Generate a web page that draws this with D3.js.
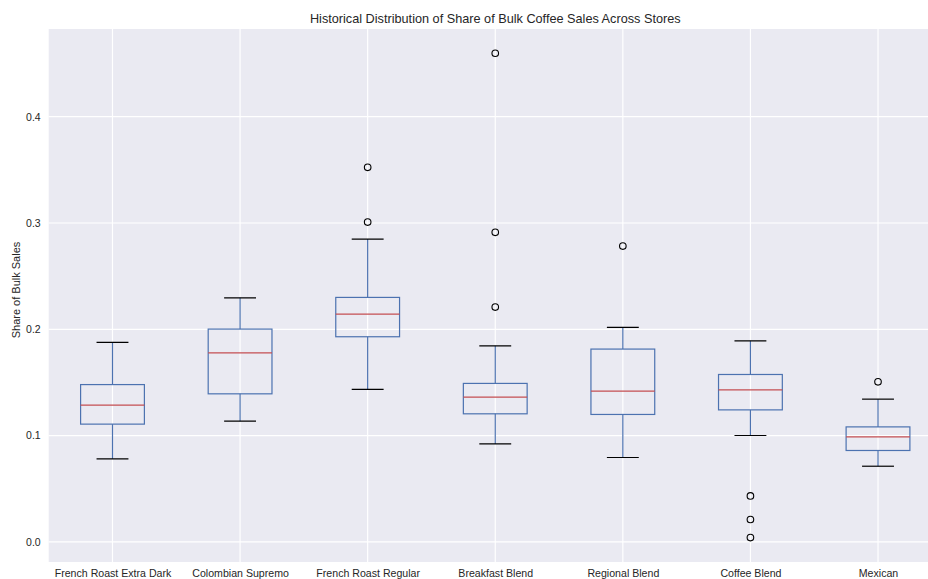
<!DOCTYPE html>
<html><head><meta charset="utf-8">
<script src="https://cdn.jsdelivr.net/npm/d3@7"></script>
<style>body{margin:0;background:#fff}svg{display:block}text{font-family:"Liberation Sans",Arial,sans-serif}</style>
</head><body><svg id="c" width="928" height="579"></svg>
<script>
const categories = ["French Roast Extra Dark","Colombian Supremo","French Roast Regular","Breakfast Blend","Regional Blend","Coffee Blend","Mexican"];
const whiskerLow  = [0.0781,0.1136,0.1434,0.0922,0.0794,0.1001,0.0712];
const q1          = [0.1108,0.1393,0.1930,0.1205,0.1199,0.1242,0.0860];
const median      = [0.1287,0.1779,0.2143,0.1362,0.1418,0.1431,0.0988];
const q3          = [0.1480,0.2002,0.2300,0.1491,0.1814,0.1575,0.1082];
const whiskerHigh = [0.1877,0.2296,0.2849,0.1845,0.2018,0.1892,0.1343];
const outliers    = [[],[],[0.3009,0.3524],[0.2209,0.2912,0.4597],[0.2783],[0.0433,0.0211,0.0041],[0.1506]];
const yTicks = [0.0,0.1,0.2,0.3,0.4];

const svg = d3.select("#c");
const L=48.7, R=941.8, T=29, B=562;
const x = d3.scaleLinear().domain([0.5,7.5]).range([L,R]);
const y = d3.scaleLinear().domain([-0.0189,0.4825]).range([B,T]);
const step = x(2)-x(1);

svg.append("rect").attr("x",L).attr("y",T).attr("width",R-L).attr("height",B-T).attr("fill","#EAEAF2");
// grid
svg.append("g").selectAll("line").data(yTicks).join("line")
  .attr("x1",L).attr("x2",R).attr("y1",d=>y(d)).attr("y2",d=>y(d)).attr("stroke","#fff").attr("stroke-width",1.2);
svg.append("g").selectAll("line").data(categories).join("line")
  .attr("x1",(d,i)=>x(i+1)).attr("x2",(d,i)=>x(i+1)).attr("y1",T).attr("y2",B).attr("stroke","#fff").attr("stroke-width",1.2);

// axes
const ya = d3.axisLeft(y).tickValues(yTicks).tickFormat(d3.format(".1f")).tickSize(0).tickPadding(8);
const gy = svg.append("g").attr("transform",`translate(${L},0)`).call(ya);
gy.select(".domain").remove();
gy.selectAll("text").attr("font-size",10.5).attr("fill","#262626").attr("font-family","Liberation Sans, Arial, sans-serif");
const xa = d3.axisBottom(x).tickValues(d3.range(1,8)).tickFormat(i=>categories[i-1]).tickSize(0).tickPadding(7);
const gx = svg.append("g").attr("transform",`translate(0,${B})`).call(xa);
gx.select(".domain").remove();
gx.selectAll("text").attr("font-size",10.6).attr("fill","#262626").attr("font-family","Liberation Sans, Arial, sans-serif");

// boxes
const blue="#4C72B0", red="#C44E52";
const g = svg.append("g");
categories.forEach((c,i)=>{
  const cx=x(i+1), bw=step*0.5, cw=step*0.25;
  const gg=g.append("g");
  gg.append("line").attr("x1",cx).attr("x2",cx).attr("y1",y(whiskerLow[i])).attr("y2",y(q1[i])).attr("stroke",blue).attr("stroke-width",1.2);
  gg.append("line").attr("x1",cx).attr("x2",cx).attr("y1",y(q3[i])).attr("y2",y(whiskerHigh[i])).attr("stroke",blue).attr("stroke-width",1.2);
  gg.append("rect").attr("x",cx-bw/2).attr("width",bw).attr("y",y(q3[i])).attr("height",y(q1[i])-y(q3[i]))
    .attr("fill","none").attr("stroke",blue).attr("stroke-width",1.2);
  gg.append("line").attr("x1",cx-bw/2).attr("x2",cx+bw/2).attr("y1",y(median[i])).attr("y2",y(median[i])).attr("stroke",red).attr("stroke-width",1.2);
  [whiskerLow[i],whiskerHigh[i]].forEach(v=>{
    gg.append("line").attr("x1",cx-cw/2).attr("x2",cx+cw/2).attr("y1",y(v)).attr("y2",y(v)).attr("stroke","#000").attr("stroke-width",1.2);
  });
  gg.selectAll("circle").data(outliers[i]).join("circle").attr("cx",cx).attr("cy",d=>y(d)).attr("r",3.3)
    .attr("fill","none").attr("stroke","#000").attr("stroke-width",1.1);
});

svg.append("text").attr("x",(L+R)/2).attr("y",23).attr("text-anchor","middle").attr("font-size",12.7).attr("fill","#262626")
  .text("Historical Distribution of Share of Bulk Coffee Sales Across Stores");
svg.append("text").attr("transform",`translate(20,290) rotate(-90)`).attr("text-anchor","middle").attr("font-size",11).attr("fill","#262626")
  .text("Share of Bulk Sales");
</script></body></html>
